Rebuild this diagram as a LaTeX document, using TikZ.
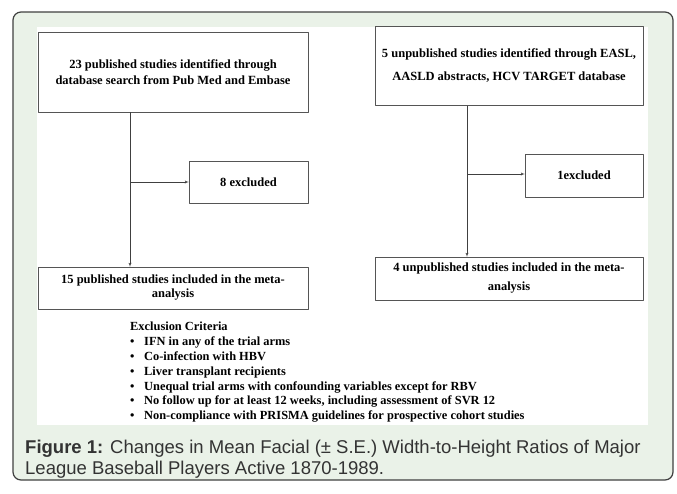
\documentclass[tikz,border=0pt]{standalone}
\usepackage{fontspec}
\setmainfont{Liberation Serif}
\newfontfamily\captionfont{Liberation Sans}
\usetikzlibrary{arrows}
\definecolor{panelgreen}{RGB}{234,242,232}
\definecolor{boxline}{RGB}{85,85,85}
\newcommand{\boxtext}[1]{\fontsize{12.5}{#1}\selectfont\bfseries}

\begin{document}
\begin{tikzpicture}[>=latex',line join=bevel,x=1pt,y=-1pt,
    box/.style={rectangle,draw=boxline,fill=white,align=center,inner sep=2pt,font=\boxtext{#1}},
    box/.default=15,
    link/.style={color=black!75,->}]
            %
            \useasboundingbox (0,0) rectangle (677,493);
            \draw [fill=panelgreen,draw=black!75,line width=1.2pt,rounded corners=8pt] (13,12) rectangle (673,480);
            \fill [white] (37,27) rectangle (648,425);
            %
            \node (published) at (173,72) [box=16.5,minimum width=270pt,minimum height=80pt] {23 published studies identified through\\database search from Pub Med and Embase};
            \node (excluded) at (248.5,182) [box,minimum width=119pt,minimum height=42pt] {8 excluded};
            \node (included) at (173,288) [box=14,minimum width=270pt,minimum height=42pt] {15 published studies included in the meta-\\analysis};
            \node (unpublished) at (509,66) [box=23,minimum width=268pt,minimum height=79pt] {5 unpublished studies identified through EASL,\\AASLD abstracts, HCV TARGET database};
            \node (unexcluded) at (584,175.5) [box,minimum width=118pt,minimum height=43pt] {1excluded};
            \node (unincluded) at (509,278.5) [box=19,minimum width=268pt,minimum height=43pt] {4 unpublished studies included in the meta-\\analysis};
            %
            \coordinate (lfork) at (130,182);
            \coordinate (rfork) at (467,174);
            \draw [link] (published.south -| lfork) -- (included.north -| lfork);
            \draw [link] (lfork) -- (excluded);
            \draw [link] (unpublished.south -| rfork) -- (unincluded.north -| rfork);
            \draw [link] (rfork) -- (rfork -| unexcluded.west);
            %
            \node[align=left,anchor=north west,inner sep=0pt,font=\fontsize{12.4}{14.8}\selectfont\bfseries] (criteria) at (130,322) {Exclusion Criteria\\
                \makebox[14pt][l]{\textbullet}IFN in any of the trial arms\\
                \makebox[14pt][l]{\textbullet}Co-infection with HBV\\
                \makebox[14pt][l]{\textbullet}Liver transplant recipients\\
                \makebox[14pt][l]{\textbullet}Unequal trial arms with confounding variables except for RBV\\
                \makebox[14pt][l]{\textbullet}No follow up for at least 12 weeks, including assessment of SVR 12\\
                \makebox[14pt][l]{\textbullet}Non-compliance with PRISMA guidelines for prospective cohort studies};
            %
            \node[align=left,anchor=north west,inner sep=0pt,font=\captionfont\fontsize{18.5}{21.7}\selectfont,text=black!80] (caption) at (25,439.5) {\textbf{Figure 1:} Changes in Mean Facial (± S.E.) Width-to-Height Ratios of Major\\League Baseball Players Active 1870-1989.};
            %
        \end{tikzpicture}
\end{document}
